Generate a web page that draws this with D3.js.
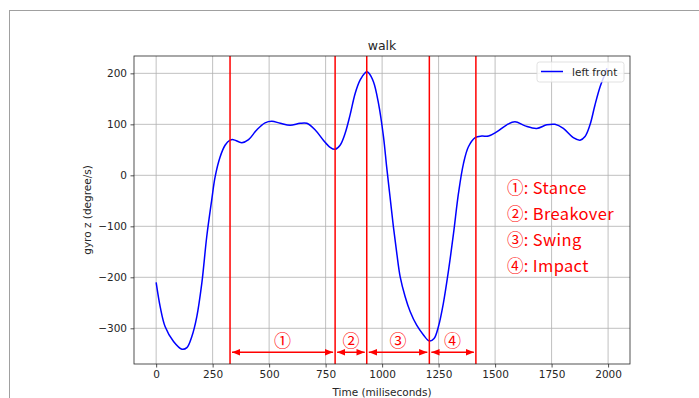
<!DOCTYPE html>
<html>
<head>
<meta charset="utf-8">
<script src="https://cdn.jsdelivr.net/npm/d3@7"></script>
<style>
  body { margin: 0; background: #fff; }
  svg { display: block; }
  .tick text { font-family: "DejaVu Sans", sans-serif; font-size: 10.5px; fill: #262626; }
  .lbl { font-family: "DejaVu Sans", sans-serif; font-size: 10.5px; fill: #262626; }
</style>
</head>
<body>
<svg id="chart" width="699" height="398"></svg>
<script>
// gyro z samples (time in ms, value in degree/s)
const time = [0, 18, 40, 77, 114, 136, 158, 180, 202, 224, 246, 261, 283, 305, 327, 342, 379, 409, 445, 482,
  512, 549, 593, 637, 667, 704, 740, 770, 792, 814, 836, 858, 881, 903, 925, 932, 940, 962, 984, 1006,
  1020, 1035, 1050, 1065, 1080, 1102, 1124, 1153, 1183, 1209, 1230, 1249, 1271, 1294, 1316, 1338, 1360, 1382, 1412, 1441,
  1471, 1507, 1552, 1588, 1633, 1684, 1729, 1765, 1802, 1846, 1876, 1898, 1920, 1942, 1965, 1987, 1995];
const gyro = [-210, -258, -297, -326, -341, -338, -316, -277, -212, -120, -48, -3, 36, 59, 69, 70, 64, 70, 89, 103,
  106, 102, 98, 102, 102, 89, 69, 55, 51, 59, 82, 118, 161, 187, 201, 203, 201, 183, 141, 76,
  17, -42, -101, -153, -199, -238, -267, -294, -313, -325, -320, -297, -251, -186, -114, -35, 23, 56, 74, 77,
  77, 85, 99, 105, 97, 92, 99, 100, 92, 74, 69, 76, 99, 138, 174, 200, 210];

const phaseBounds = [327, 792, 932, 1209, 1415];
const phaseMarks = ["①", "②", "③", "④"];
const phaseNames = ["Stance", "Breakover", "Swing", "Impact"];
const xTicks = [0, 250, 500, 750, 1000, 1250, 1500, 1750, 2000];
const yTicks = [-300, -200, -100, 0, 100, 200];

const svg = d3.select("#chart");
const m = { left: 134, right: 630, top: 56, bottom: 364 };

// frame lines of the original screenshot
svg.append("line").attr("x1", 9).attr("x2", 699).attr("y1", 10.5).attr("y2", 10.5).attr("stroke", "#a0a0a0");
svg.append("line").attr("x1", 9.5).attr("x2", 9.5).attr("y1", 10).attr("y2", 398).attr("stroke", "#a0a0a0");

const x = d3.scaleLinear().domain([-98, 2097]).range([m.left, m.right]);
const y = d3.scaleLinear().domain([-370, 234]).range([m.bottom, m.top]);

// grid
const grid = svg.append("g");
grid.selectAll(".gx").data(xTicks).join("line")
    .attr("x1", d => x(d)).attr("x2", d => x(d)).attr("y1", m.top).attr("y2", m.bottom)
    .attr("stroke", "#b0b0b0").attr("stroke-width", 0.8);
grid.selectAll(".gy").data(yTicks).join("line")
    .attr("x1", m.left).attr("x2", m.right).attr("y1", d => y(d)).attr("y2", d => y(d))
    .attr("stroke", "#b0b0b0").attr("stroke-width", 0.8);

const fmt = d => d < 0 ? "\u2212" + Math.abs(d) : String(d);

const xAxis = svg.append("g").attr("transform", `translate(0,${m.bottom})`)
    .call(d3.axisBottom(x).tickValues(xTicks).tickFormat(fmt).tickSize(3.5).tickPadding(3.5));
const yAxis = svg.append("g").attr("transform", `translate(${m.left},0)`)
    .call(d3.axisLeft(y).tickValues(yTicks).tickFormat(fmt).tickSize(3.5).tickPadding(3.5));
[xAxis, yAxis].forEach(a => {
    a.select(".domain").remove();
    a.selectAll(".tick line").attr("stroke", "#262626").attr("stroke-width", 0.8);
});

// curve
const line = d3.line().x((d, i) => x(time[i])).y(d => y(d)).curve(d3.curveCatmullRom.alpha(0.5));
svg.append("path").datum(gyro).attr("d", line)
    .attr("fill", "none").attr("stroke", "#0000ff").attr("stroke-width", 1.5);

// phase boundaries
svg.selectAll(".vb").data(phaseBounds).join("line")
    .attr("x1", d => x(d)).attr("x2", d => x(d)).attr("y1", m.top).attr("y2", m.bottom)
    .attr("stroke", "#ff0000").attr("stroke-width", 1.5);

// arrows between boundaries
const defs = svg.append("defs");
defs.append("marker").attr("id", "ah").attr("viewBox", "0 0 10 10").attr("refX", 10).attr("refY", 5)
    .attr("markerWidth", 5.5).attr("markerHeight", 5.5).attr("markerUnits", "strokeWidth")
    .attr("orient", "auto-start-reverse")
    .append("path").attr("d", "M0,1 L10,5 L0,9 z").attr("fill", "#ff0000");

const phases = phaseMarks.map((mk, i) => ({ mk, a: phaseBounds[i], b: phaseBounds[i + 1] }));
svg.selectAll(".arr").data(phases).join("line")
    .attr("x1", d => x(d.a) + 2).attr("x2", d => x(d.b) - 2)
    .attr("y1", y(-347)).attr("y2", y(-347))
    .attr("stroke", "#ff0000").attr("stroke-width", 1.5)
    .attr("marker-start", "url(#ah)").attr("marker-end", "url(#ah)");
svg.selectAll(".pm").data(phases).join("text")
    .attr("x", d => x((d.a + d.b) / 2)).attr("y", y(-322))
    .attr("text-anchor", "middle").attr("dominant-baseline", "central")
    .attr("font-family", "'Noto Sans CJK JP', sans-serif").attr("font-size", 17)
    .attr("fill", "#ff0000").text(d => d.mk);

// phase legend text
svg.selectAll(".pn").data(phaseNames).join("text")
    .attr("x", 507).attr("y", (d, i) => 187 + i * 26)
    .attr("dominant-baseline", "central")
    .attr("font-family", "'Noto Sans CJK JP', sans-serif").attr("font-size", 16.5)
    .attr("letter-spacing", 0.35)
    .attr("fill", "#ff0000").text((d, i) => `${phaseMarks[i]}: ${d}`);

// plot frame
svg.append("rect").attr("x", m.left).attr("y", m.top)
    .attr("width", m.right - m.left).attr("height", m.bottom - m.top)
    .attr("fill", "none").attr("stroke", "#262626").attr("stroke-width", 0.8);

// series legend
const lg = svg.append("g");
lg.append("rect").attr("x", 537).attr("y", 62).attr("width", 87).attr("height", 20).attr("rx", 2.5)
    .attr("fill", "#fff").attr("fill-opacity", 0.8).attr("stroke", "#d9d9d9").attr("stroke-width", 0.8);
lg.append("line").attr("x1", 541).attr("x2", 563).attr("y1", 71.5).attr("y2", 71.5)
    .attr("stroke", "#0000ff").attr("stroke-width", 1.5);
lg.append("text").attr("class", "lbl").attr("x", 572).attr("y", 71.5)
    .attr("dominant-baseline", "central").text("left front");

// titles
svg.append("text").attr("x", (m.left + m.right) / 2).attr("y", 50).attr("text-anchor", "middle")
    .attr("font-family", "'DejaVu Sans', sans-serif").attr("font-size", 12.5).attr("fill", "#262626").text("walk");
svg.append("text").attr("class", "lbl").attr("x", (m.left + m.right) / 2).attr("y", 396)
    .attr("text-anchor", "middle").text("Time (miliseconds)");
svg.append("text").attr("class", "lbl")
    .attr("transform", `translate(91,${(m.top + m.bottom) / 2}) rotate(-90)`)
    .attr("text-anchor", "middle").text("gyro z (degree/s)");
</script>
</body>
</html>
